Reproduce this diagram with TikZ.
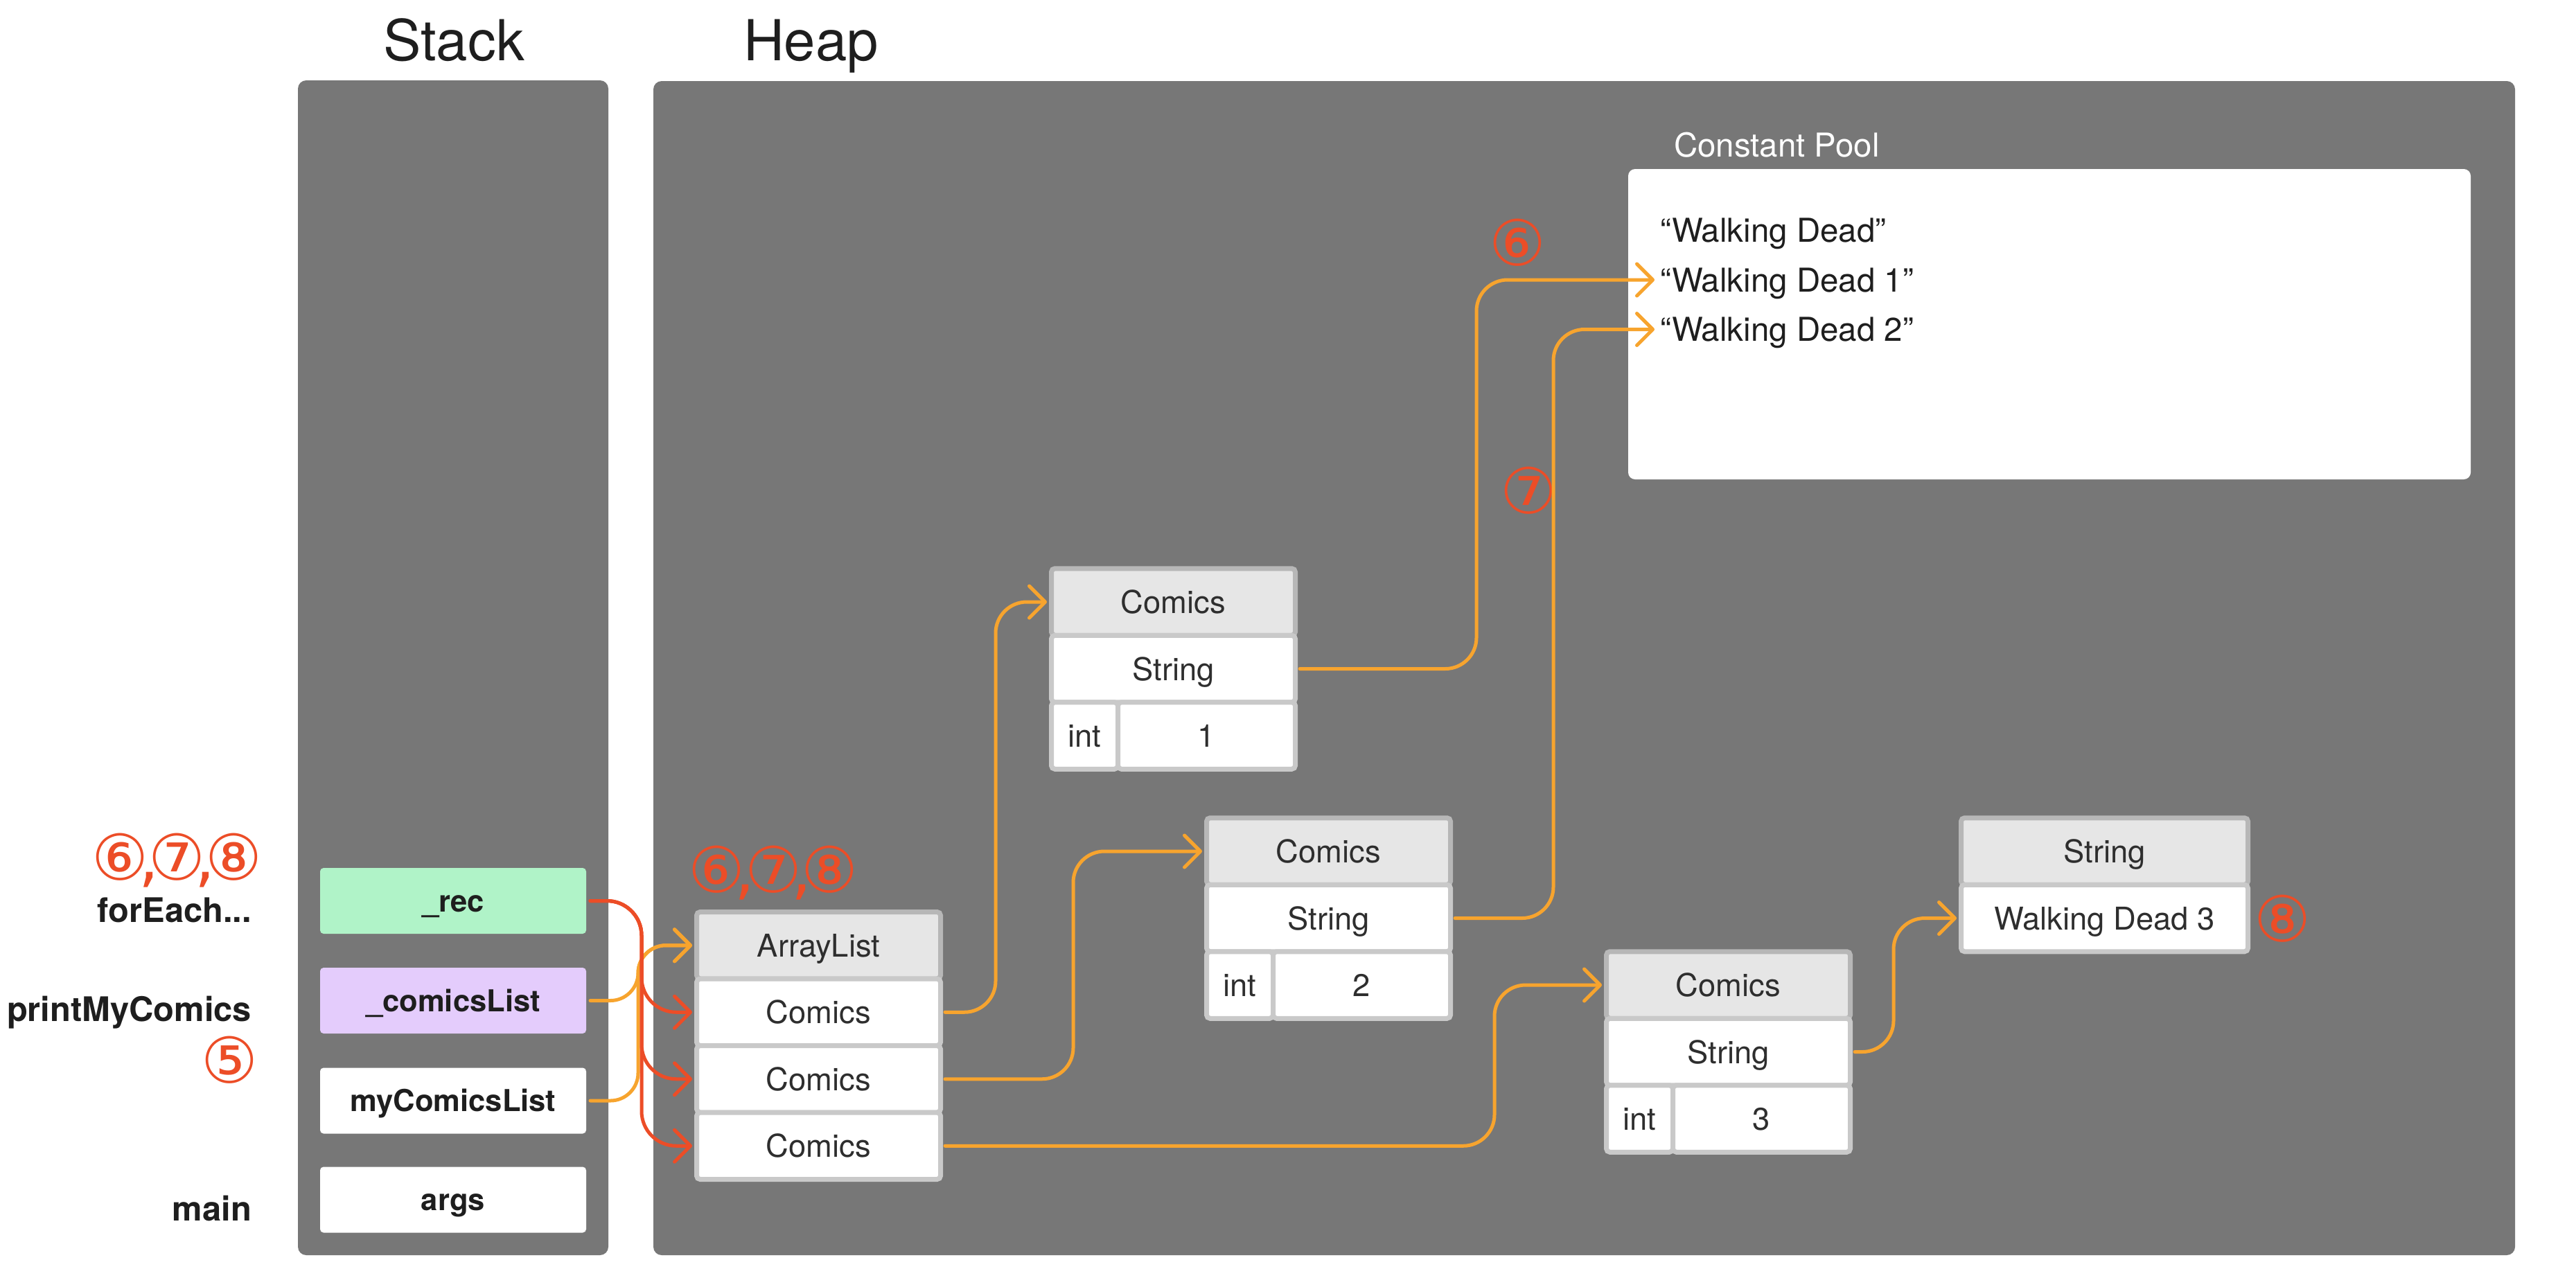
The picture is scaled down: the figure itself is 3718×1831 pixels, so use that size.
\documentclass[tikz,border=0pt]{standalone}
\usepackage{fontspec}
\setmainfont{TeX Gyre Heros}
\newfontfamily\circfont{DejaVu Sans}
\usetikzlibrary{arrows.meta}
\definecolor{panel}{HTML}{777777}
\definecolor{rline}{HTML}{EC4D27}
\definecolor{oline}{HTML}{F7A42E}
\definecolor{recfill}{HTML}{B0F3C8}
\definecolor{clfill}{HTML}{E4CCFC}
\definecolor{hdrfill}{HTML}{E6E6E6}
\definecolor{hdrrim}{HTML}{B7B7B7}
\definecolor{cellrim}{HTML}{C9C9C9}
\definecolor{ink}{HTML}{1E1E1E}
\definecolor{boxink}{HTML}{2E2E2E}
\newcommand\cgap{\kern-0.16em,\kern-0.16em}
\tikzset{
  title/.style={font=\fontsize{23.2}{26}\selectfont, text=ink},
  lbl/.style={font=\bfseries\fontsize{13.9}{16}\selectfont, text=ink},
  stk/.style={minimum width=38.4mm, minimum height=9.5mm, rounded corners=0.5mm, font=\bfseries\fontsize{12.4}{14}\selectfont, text=ink, outer sep=0.6mm, text height=3.1mm, text depth=0pt},
  hdr/.style={draw=hdrrim, fill=hdrfill, line width=0.7mm, rounded corners=0.5mm, minimum width=35.2mm, minimum height=9.65mm, font=\fontsize{12.9}{15}\selectfont, text=boxink, outer sep=0.65mm, text height=3.3mm, text depth=0pt},
  cell/.style={hdr, draw=cellrim, fill=white},
  wd/.style={font=\fontsize{13.5}{16}\selectfont, text=ink, inner xsep=0.8mm, inner ysep=0pt, text height=3.4mm, text depth=0pt},
  circ/.style={font=\circfont\fontsize{26}{26}\selectfont, text=rline},
  conn/.style={line width=0.5mm, rounded corners=4.5mm, line cap=round, -{Straight Barb[length=2.3mm,width=4.6mm,line cap=round,line join=round]}},
}
\begin{document}
\begin{tikzpicture}[x=0.1mm, y=-0.1mm, every node/.style={inner sep=0pt, outer sep=0pt}]
\useasboundingbox (0,0) rectangle (3718,1831);
% panels
\fill[panel, rounded corners=1.2mm] (430,116) rectangle (878,1812);
\fill[panel, rounded corners=1.2mm] (943,117) rectangle (3630,1812);
\fill[white, rounded corners=1mm] (2350,244) rectangle (3566,692);
% titles
\node[title, anchor=base] (stackt) at (655,87) {Stack};
\node[title, anchor=base west] (heapt) at (1073,87) {Heap};
\node[font=\fontsize{13.5}{16}\selectfont, text=white, anchor=base west] (cpt) at (2416,226.5) {Constant Pool};
% frame labels
\node[lbl, anchor=base east] (fe) at (363,1331) {forEach...};
\node[lbl, anchor=base east] (pmc) at (363,1474) {printMyComics};
\node[lbl, anchor=base east] (mn) at (363,1762) {main};
% stack boxes
\node[stk, fill=recfill] (rec) at (654,1300.5) {\_rec};
\node[stk, fill=clfill] (cl) at (654,1444.5) {\_comicsList};
\node[stk, fill=white] (mcl) at (654,1589) {myComicsList};
\node[stk, fill=white] (args) at (654,1732) {args};
% ArrayList
\node[hdr] (alh) at (1181.5,1364.75) {ArrayList};
\node[cell] (al1) at (1181.5,1461.25) {Comics};
\node[cell] (al2) at (1181.5,1557.75) {Comics};
\node[cell] (al3) at (1181.5,1654.25) {Comics};
% Comics 1
\node[hdr] (c1h) at (1693.5,869) {Comics};
\node[cell] (c1s) at (1693.5,965.5) {String};
\node[cell, minimum width=9.6mm] (c1i) at (1565.5,1062) {int};
\node[cell, minimum width=25.6mm] (c1v) at (1741.5,1062) {1};
% Comics 2
\node[hdr] (c2h) at (1917.5,1229) {Comics};
\node[cell] (c2s) at (1917.5,1325.5) {String};
\node[cell, minimum width=9.6mm] (c2i) at (1789.5,1422) {int};
\node[cell, minimum width=25.6mm] (c2v) at (1965.5,1422) {2};
% Comics 3
\node[hdr] (c3h) at (2494.5,1422) {Comics};
\node[cell] (c3s) at (2494.5,1518.5) {String};
\node[cell, minimum width=9.6mm] (c3i) at (2366.5,1615) {int};
\node[cell, minimum width=25.6mm] (c3v) at (2542.5,1615) {3};
% String
\node[hdr, minimum width=41.4mm] (s3h) at (3037.5,1229) {String};
\node[cell, minimum width=41.4mm] (s3v) at (3037.5,1325.5) {Walking Dead 3};
% constant pool strings
\node[wd, anchor=base west] (wd0) at (2388,349) {“Walking Dead”};
\node[wd, anchor=base west] (wd1) at (2388,421) {“Walking Dead 1”};
\node[wd, anchor=base west] (wd2) at (2388,492.5) {“Walking Dead 2”};
% step markers
\node[circ] (m678a) at (255.5,1242) {⑥\cgap⑦\cgap⑧};
\node[circ] (m5) at (331.5,1530) {⑤};
\node[circ] (m678b) at (1116,1260) {⑥\cgap⑦\cgap⑧};
\node[circ] (m6) at (2190,350) {⑥};
\node[circ] (m7) at (2206,708) {⑦};
\node[circ] (m8) at (3294,1326) {⑧};
% connectors
\draw[conn, oline, rounded corners=4mm] (cl.east) -- ++(69,0) |- (alh.west);
\draw[conn, oline, rounded corners=4mm] (mcl.east) -- ++(69,0) |- (alh.west);
\foreach \t in {al1,al2,al3} \draw[conn, rline, rounded corners=5mm] (rec.east) -- ++(74,0) |- (\t.west);
\draw[conn, oline] (al1.east) -- ++(73,0) |- (c1h.west);
\draw[conn, oline] (al2.east) -- ++(185,0) |- (c2h.west);
\draw[conn, oline] (al3.east) -- ++(793,0) |- (c3h.west);
\draw[conn, oline] (c1s.east) -- ++(255,0) |- (wd1.west);
\draw[conn, oline] (c2s.east) -- ++(142,0) |- (wd2.west);
\draw[conn, oline] (c3s.east) -- ++(56,0) |- (s3v.west);
\end{tikzpicture}
\end{document}
